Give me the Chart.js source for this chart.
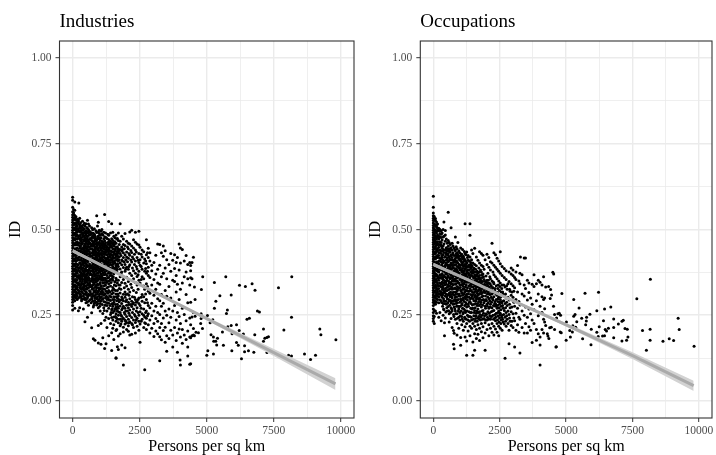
<!DOCTYPE html>
<html lang="en">
  <head>
    <meta charset="UTF-8" />
    <title>Industries and Occupations</title>
    <script src="https://cdn.jsdelivr.net/npm/chart.js"></script>
    <style>
      html, body { margin: 0; padding: 0; background: #fff; }
      canvas { position: absolute; top: 0; display: block; }
      #industries { left: 0; }
      #occupations { left: 360px; }
    </style>
  </head>
  <body>
    <canvas id="industries" width="360" height="455"></canvas>
    <canvas id="occupations" width="356" height="455"></canvas>
  <script>
    // each row: persons per sq km, then the ID values in thousandths read at that density
    const industryDense = [
      [0,265,278,288,296,303,311,318,326,333,341,348,356,363,371,378,386,393,401,408,416,423,431,438,446,453,461,468,476,483,491,498,506,513,521,528,536,543,552,565,585,594],
      [35,297,306,317,322,333,337,348,352,363,368,378,383,394,398,409,413,424,428,439,443,454,458,469,473,484,488,499,503,514,518,529,533,544,549,558],
      [80,270,292,304,309,319,324,335,339,350,354,365,369,380,384,396,399,410,414,425,429,440,444,456,459,470,474,486,489,500,504,515,519,530,534,541,556,580],
      [125,300,311,318,329,336,347,354,365,372,383,390,401,408,419,426,437,444,455,462,473,480,491,498,509,516,527,537],
      [170,296,307,314,326,333,344,353,361,372,380,391,398,410,417,428,436,445,456,464,473,484,492,503,510,521,530],
      [215,263,300,315,322,339,344,360,366,381,388,397,412,418,433,439,454,460,475,481,496,502,517,523,528],
      [230,577],
      [262,272,303,319,331,340,356,364,379,388,403,412,421,436,445,460,472,481,496,507,514,533],
      [296,309,327,336,358,367,391,402,424,438,449,467,485,503,520],
      [332,292,298,319,344,355,372,384,410,417,443,456,471,492,511],
      [368,315,331,350,363,379,398,408,428,436,459,478,488,506,524],
      [401,268,306,327,340,368,387,401,419,431,447,470,483,499,513],
      [436,322,337,355,374,394,411,423,440,452,466,480,502,518],
      [459,231,296,312,349,362,383,406,427,438,457,475,493,510],
      [497,286,318,335,358,378,389,409,420,433,451,468,484,496,517],
      [528,308,326,346,370,396,415,429,444,459,473,491,506],
      [553,244,301,338,352,367,381,405,418,436,447,467,479,503,527],
      [590,279,312,330,361,377,393,412,428,440,457,470,488,500,516],
      [628,321,344,356,386,399,421,435,449,461,483,495,510],
      [662,296,318,339,372,389,411,423,443,459,471,492],
      [709,213,257,304,334,351,368,394,408,431,444,456,476,490,505],
      [744,291,312,328,362,381,404,417,433,451,465,480,499],
      [771,181,274,345,355,377,390,412,429,441,460,477,489],
      [808,285,305,322,340,373,389,402,425,438,452,464,486,502],
      [833,177,300,318,357,369,396,415,428,447,470,482],
      [866,316,336,352,384,397,411,424,436,458,472,496],
      [897,280,298,330,349,366,382,407,420,433,451,469,491,540],
      [926,311,341,360,393,414,442,455,478,510],
      [958,169,220,272,292,320,338,373,388,402,429,445,457,481,493,521],
      [992,305,324,356,379,395,410,423,437,463,475,488,498],
      [1028,262,284,300,345,362,386,401,416,428,452,469,483],
      [1057,165,226,318,334,370,392,408,431,447,459,476,495],
      [1089,296,312,352,364,380,414,424,439,466,487,500],
      [1124,184,255,328,344,373,396,411,436,451,463,484],
      [1160,272,290,308,358,388,405,420,443,455,472,492],
      [1193,153,235,326,345,376,392,418,431,448,467,479,544],
      [1226,288,301,338,353,370,402,415,428,441,461,490],
      [1244,167,244,320,386,436,453,477],
      [1279,214,262,278,296,330,349,366,399,413,426,450,474],
      [1312,314,384,404,419,438,462,486],
      [1345,190,240,270,285,322,342,360,395,409,435,447,471,483,523],
      [1378,307,378,422,459],
      [1412,226,252,293,335,354,372,388,404,418,430,454,466,490],
      [1455,147,199,243,266,283,312,366,382,397,412,425,449,473,517],
      [1497,212,236,258,276,296,331,352,375,392,406,420,444,456,468,492],
      [1535,179,222,245,288,304,326,371,388,416,432,452,480],
      [1574,268,347,402,428,440,464,476],
      [1617,124,126,205,232,254,273,312,336,358,396,410,423,448,460,484],
      [1642,208,241,292,378,436,472],
      [1667,158,262,282,300,322,344,384,400,414,426,450,474],
      [1704,150,189,228,250,270,306,352,392,408,432,444,468,490],
      [1738,289,328,420,456],
      [1771,196,219,238,258,277,315,338,362,385,403,430,442,466,517],
      [1829,163,232,247,266,284,303,345,376,397,411,437,449,480],
      [1891,105,201,215,241,276,292,311,354,389,418,432,456,472],
      [1925,258,330,405,444],
      [1953,155,224,236,253,270,302,318,343,378,398,426,453,488],
      [2012,208,228,246,279,295,335,361,390,420,434,466],
      [2046,262,312,406,449],
      [2077,203,219,238,272,288,326,348,384,416,444,460],
      [2130,192,231,249,265,298,318,372,397,425,458,493],
      [2168,281,340,411,439],
      [2202,194,226,243,275,291,331,366,405,433,452,498],
      [2270,214,236,268,286,322,356,380,414,446,470],
      [2305,252,302,398,428],
      [2340,198,229,247,280,296,345,372,408,440,463,492],
      [2402,218,241,272,290,338,363,385,418,458],
      [2470,206,232,250,284,300,352,378,404,430,455,495],
      [2513,171,224,260,278,344,396,412,448],
      [2590,238,254,291,310,362,384,420,440],
      [2650,214,250,268,304,335,356,402,435],
      [2687,91,228,245,286,326,378,414],
      [2750,208,241,262,296,342,372,400,426,470],
      [2820,222,254,278,320,366,390,418,445],
      [2880,198,236,272,314,360,408,432],
      [2950,212,248,285,338,380,396],
      [3030,188,226,262,308,354,404],
      [3100,204,240,276,326,370,425]
    ];
    // extra dots for the blacker parts of the industries cloud
    const industryFill = [
      [280,311,349,375,412,452,493],[315,304,338,366,397,431,476],[350,326,357,389,421,463,498],[385,297,342,371,405,443,482],
      [420,312,333,380,415,449,491],[448,301,344,369,402,434,471],[480,327,352,383,412,445,488],[512,296,316,365,399,424,462],
      [540,288,329,357,392,438,480],[572,305,342,373,408,451,494],[610,292,337,351,381,417,464],[645,309,333,368,395,429,474],
      [685,286,311,349,380,412,452,486],[725,298,326,357,388,423,468],[756,306,338,369,398,437,482],[790,279,318,351,384,416,456],
      [822,293,331,364,407,441,477],[850,309,346,378,403,433,466],[880,288,323,358,390,419,447],[912,302,337,372,399,426,462],
      [940,284,317,352,381,409,440,472],[975,296,329,366,403,431,459],[1010,276,312,341,376,418,449],[1042,291,327,355,383,410,440],
      [1075,304,336,368,398,429,455],[1105,281,321,359,388,418,446],[1140,299,316,352,381,408,430,458],[1178,264,336,368,398,427],
      [1210,279,312,358,384,409,436,458],[1262,305,345,379,407,434,446],[1296,286,318,358,392,416,441],[1330,301,332,372,402,428,456],
      [1362,294,350,388,412,441,465],[1395,278,318,366,398,426,448],[1432,258,303,345,378,410,437,460],[1476,269,322,358,385,414,435],
      [1516,283,315,362,399,426,461],[1555,262,296,338,380,408,436,456],[1595,246,281,322,386,418,444],[1630,268,304,352,391,429],
      [1685,238,275,312,398,421,442],[1720,259,296,338,412,438],[1800,224,251,294,326,372,424],[1860,239,270,298,364,408,442],
      [1980,232,262,290,310,384,412],[2100,228,256,281,308,392,430],[2230,222,258,282,304,388,420],[2375,236,262,288,316,392,434],
      [2440,258,296,326,368,410],[2555,232,270,302,354,392,428],[2720,226,258,312,386,408],[2790,248,286,334,378,432]
    ];
    const industrySparse = [
      [3170,196,232,258,298,344,384,458],[3247,117,187,214,252,292,340,396,456],[3310,178,226,276,310,362,432],
      [3380,205,242,285,372,422,452],[3450,171,215,262,322,388,438],[3508,145,190,250,305,356,412],
      [3590,182,228,268,334,398],[3660,206,244,300,378,430],[3732,157,192,262,352,410],
      [3800,214,278,348,386,426],[3860,176,236,318,366,404],[3906,142,198,258,340,418],
      [3970,210,246,296,382,458],[4006,119],[4018,105,186,226,326,402,446],[4090,168,208,270,344,442],
      [4160,192,252,362,408],[4230,179,234,310,376,424],[4292,131,157,204,286,356,398],
      [4366,107,186,242,338,404],[4400,108,184,222,288,380,359,395],[4450,190,245,356,404],
      [4503,192,211,258,419],[4540,190,332],[4565,247,296],[4600,200],[4690,199],[4775,226],[4790,240,254],[4800,325],[4840,211],[4850,362],
      [5000,133],[5025,249],[5040,146],[5125,228],[5160,193],[5225,237],[5250,137,186],[5260,174],[5285,270,345],[5335,174],[5340,291],[5370,163],[5400,183],
      [5490,307],[5585,201],[5620,162],[5710,362],[5735,255],[5770,265],[5785,216],[5910,220,309],[5935,146],[5945,196],
      [6110,170,222],[6175,162],[6210,205],[6220,337],[6295,123],[6365,195],[6410,143,161],[6440,334],[6500,238],[6555,146],[6590,241],[6690,342],
      [6755,142],[6790,193],[6800,323],[6890,262],[6965,259],[7115,174,210],[7165,183],[7240,185],[7245,141],[7300,187],[7675,330],[7875,207],
      [8050,133],[8160,131,244],[8170,362],[8645,137],[8870,121],[9055,133],[9215,210],[9255,193],[9815,178]
    ];
    const occupationDense = [
      [0,232,240,248,258,268,278,288,295,302,309,316,323,330,337,344,351,358,365,372,379,386,393,400,407,414,421,428,435,442,449,456,463,470,477,484,491,498,505,512,519,526,533,540,548,565,597],
      [35,226,246,264,285,292,303,306,317,320,331,334,345,348,359,362,373,376,387,390,401,404,415,418,429,432,443,446,457,460,471,474,485,488,499,502,513,516,527,530,538],
      [80,262,282,290,301,306,318,322,334,338,350,354,366,370,382,386,398,402,414,418,430,434,446,450,462,466,478,482,494,498,510,514,526,532],
      [120,256,288,297,310,315,328,333,346,351,364,369,382,387,400,405,418,423,436,441,454,459,472,477,490,495,508,513,522],
      [160,296,305,318,324,338,344,358,364,378,384,398,404,418,424,438,444,458,464,478,484,498,504,516],
      [205,244,286,304,312,328,336,352,360,376,384,400,408,424,432,448,456,472,480,496,504],
      [248,258,295,312,320,336,344,360,368,384,392,408,416,432,440,456,464,479,488,500],
      [296,234,292,308,317,333,342,358,366,382,390,406,414,430,438,454,462,477,486,496],
      [332,302,325,347,371,394,418,445,469,490],
      [368,250,284,314,336,355,382,403,426,452,478,500],
      [400,266,292,320,344,366,390,409,433,458,480,522],
      [420,190,228],
      [452,242,306,328,349,376,396,421,441,466,484,497],
      [488,282,312,340,359,382,410,428,447,472],
      [525,262,298,322,352,372,398,417,438,460],
      [560,275,334,362,386,406,430,451,468,550],
      [598,230,254,292,314,344,378,396,420,444,462],
      [634,304,328,356,370,392,411,434,456],
      [668,240,272,286,310,342,366,384,402,426,447,505],
      [709,214,262,300,326,350,376,398,418,440,460],
      [742,282,316,338,362,388,410,432,452],
      [760,165,205,252,292,354,404],
      [785,152,197,274,308,328,372,396,424,446],
      [830,238,262,302,340,364,382,416,438,478],
      [862,284,318,350,378,406,430,450],
      [892,192,226,254,294,334,360,392,420,444],
      [924,276,312,344,374,402,426,462],
      [958,212,244,268,306,328,368,388,414,438],
      [1000,236,258,288,338,354,382,410,432],
      [1030,162,185,298,322,362,396,424,446],
      [1070,222,246,280,316,348,376,404,428],
      [1100,270,308,342,386,414,442],
      [1130,206,232,258,300,334,358,394,422],
      [1165,290,326,366,380,408,436],
      [1195,186,216,240,264,304,350,384,412,430,517],
      [1225,286,322,370,398,426],
      [1255,133,175,226,274,312,346,376,404,434],
      [1285,250,294,330,362,390,418],
      [1310,204,236,282,320,352,382,410,424],
      [1345,260,302,336,368,396],
      [1380,190,218,246,290,328,360,390,420,483,517],
      [1410,270,310,344,376,404],
      [1440,212,236,258,300,334,366,396,412,440],
      [1470,280,318,350,380],
      [1490,133,172,226,270,310,342,374,402,430],
      [1525,248,292,326,358,388],
      [1555,148,196,218,264,304,336,368,398,445],
      [1590,240,284,320,352,384],
      [1620,182,208,256,298,332,364,394,420],
      [1650,232,278,314,348,378],
      [1680,194,222,268,308,340,372,410],
      [1710,246,290,324,356,388],
      [1740,176,212,260,300,334,366,402,435],
      [1775,236,282,318,350,382],
      [1810,202,226,274,312,344,376,396,430],
      [1840,250,294,328,360],
      [1870,184,216,264,306,338,370,392,425],
      [1910,240,286,322,354,384],
      [1950,148,198,228,276,316,348,412],
      [1985,254,296,332,364],
      [2020,208,236,282,320,352,398,428],
      [2055,260,302,336,372],
      [2090,190,222,270,312,344,390,418],
      [2125,248,292,328,362],
      [2150,212,238,282,320,356,382,406],
      [2180,260,302,336],
      [2210,200,226,272,312,350,402,460],
      [2245,250,294,330,376],
      [2280,192,218,264,304,342,368,396,432],
      [2310,242,284,322],
      [2340,210,234,276,316,362,390,426],
      [2370,256,296,336],
      [2400,200,226,270,308,356,384,416],
      [2430,248,290,328],
      [2460,190,218,262,302,350,378,408],
      [2490,242,282,322],
      [2520,212,256,296,344,372,400,435],
      [2555,236,276,318],
      [2590,206,250,290,338,366,392],
      [2630,230,270,312],
      [2670,224,264,306,360,386],
      [2700,124,244,284,332],
      [2740,218,258,300,354,380],
      [2780,238,278,326],
      [2850,167,206,252,294,348,376],
      [2890,232,272,320],
      [2930,220,260,308,342,370,388],
      [3000,214,254,302,336,366,382]
    ];
    // extra dots for the blacker parts of the occupations cloud
    const occupationFill = [
      [315,287,314,341,369,398,423,451],[350,276,309,330,361,389,412,437],[385,268,298,327,352,378,405,441],[430,284,315,339,362,391,419],
      [470,259,291,322,347,371,402,433],[505,272,303,331,357,384,411,444],[545,286,309,338,366,392,425],[580,263,296,325,349,377,409,437],
      [615,279,308,336,359,387,414,441],[650,258,293,318,345,372,398,423],[690,268,304,332,358,386,412],[725,291,311,341,369,394,427],
      [775,246,283,318,349,379,405],[810,268,296,329,355,386,412,441],[845,254,291,311,342,371,398,424],[875,276,303,326,358,384,408],
      [908,241,286,322,349,378,404,432],[940,262,296,331,361,392,418],[975,275,312,344,372,398,422],[1015,248,276,306,331,362,389,414],
      [1050,262,292,322,354,382,408],[1085,238,284,314,338,368,398,419],[1115,254,295,326,352,378,404],[1150,268,312,342,372,392,416],
      [1180,244,278,318,346,366,398],[1210,258,298,332,362,386,408],[1240,238,282,308,338,368,392],[1270,262,302,322,354,380,402],
      [1325,246,276,312,346,372,394],[1360,232,288,320,354,382,408],[1395,258,298,338,366,398],[1425,244,284,322,352,386],
      [1455,268,306,342,372,392],[1505,238,298,332,362,382],[1540,258,282,316,346,376],[1575,232,272,308,340,362],
      [1605,248,292,326,356,376],[1635,262,304,336,368],[1665,242,284,320,354],[1695,258,298,332,362],
      [1725,238,278,312,346,376],[1758,252,296,328,358],[1792,244,288,322,352],[1825,262,304,336,368],
      [1855,238,280,316,348],[1890,256,296,332,362],[1930,248,292,318,340],[1965,236,270,306,338],
      [2000,252,292,326,346],[2035,244,276,312,342],[2070,238,286,318,352],[2105,256,298,332],
      [2140,240,274,310,342],[2195,246,288,322],[2230,262,298,330],[2265,238,278,316,346],
      [2325,252,290,328],[2355,244,282,312],[2415,236,278,316],[2445,258,298,338],
      [2475,230,272,308],[2505,250,288,334],[2540,226,266,304],[2575,244,286,328],
      [2610,238,278,318],[2650,252,292,338],[2720,232,272,312],[2760,248,288,336],
      [2810,226,262,302,342],[2870,242,282,326],[2960,232,274,318],[3030,242,288,320]
    ];
    const occupationSparse = [
      [3060,157,234,276,330,360],[3110,206,256,296,354,376],[3170,222,270,318,395],[3220,200,244,290,350],
      [3260,140,238,280,342,372],[3280,420],[3340,214,262,312,368],[3420,198,250,306,338,417],[3470,226,274,328,417],
      [3540,198,244,294,352],[3600,216,268,316,344],[3660,206,254,300],[3720,170,236,282,340],
      [3790,226,266,334,368],[3880,177,208,292,342],[3950,196,248,312,352],[4018,105,163,186,276,346],
      [4090,208,258,304,338],[4150,198,238,296,362],[4190,230,269,300],[4230,220,332],[4290,196],[4315,189],[4340,334],[4350,182],[4380,213],
      [4400,299],[4415,325],[4440,215],[4450,309],[4500,375],[4525,276],[4530,370],[4565,208,252],[4615,157],[4630,158],[4640,242],[4690,254],[4740,256],[4775,201],[4790,250],[4815,199],[4840,313],
      [5000,177],[5010,230],[5135,205],[5160,186],[5235,201],[5250,219],[5285,247,296],[5335,252],[5360,215],[5400,231],[5485,271],[5585,241],[5620,181],[5710,314],[5735,222],[5760,233],[5770,244],[5895,253],[5935,164],[5945,209],
      [6155,200,263],[6205,188],[6220,317],[6245,216],[6370,189],[6405,234],[6445,190,268],[6470,208],[6520,204],[6590,212],[6680,274],[6790,184,214,239],[6965,224],[7100,175,232],[7150,235],[7215,211],[7275,177],[7300,209],[7325,186],
      [7660,298],[7875,205],[8020,148],[8160,177,209],[8170,355],[8645,174],[8880,181],[9045,176],[9215,241],[9255,208],[9815,159]
    ];

    // regression line and its confidence band
    const fitX = [0, 1250, 2500, 5000, 7500, 9800];
    const industryFit = [0.438, 0.389, 0.339, 0.24, 0.141, 0.0495];
    const industryLow = [0.433, 0.386, 0.336, 0.235, 0.131, 0.032];
    const industryHigh = [0.443, 0.392, 0.342, 0.245, 0.151, 0.066];
    const occupationFit = [0.398, 0.355, 0.31, 0.222, 0.132, 0.0446];
    const occupationLow = [0.393, 0.352, 0.307, 0.217, 0.122, 0.029];
    const occupationHigh = [0.403, 0.358, 0.313, 0.227, 0.142, 0.059];

    const xTickValues = [0, 1250, 2500, 3750, 5000, 6250, 7500, 8750, 10000];
    const xMajorTicks = [0, 2500, 5000, 7500, 10000];
    const yTickValues = [0, 0.125, 0.25, 0.375, 0.5, 0.625, 0.75, 0.875, 1];
    const yMajorTicks = [0, 0.25, 0.5, 0.75, 1];
    const yTickLabels = ["0.00", "0.25", "0.50", "0.75", "1.00"];

    const toPoints = (rows) =>
      rows.flatMap(([x, ...ys]) => ys.map((y) => ({ x: x, y: y / 1000 })));
    const toLine = (ys) => fitX.map((x, i) => ({ x: x, y: ys[i] }));

    const serif = "'Liberation Serif', serif";

    const panelBorder = {
      id: "panelBorder",
      afterDatasetsDraw(chart) {
        const { ctx, chartArea: a } = chart;
        ctx.save();
        ctx.strokeStyle = "#333333";
        ctx.lineWidth = 1.1;
        ctx.strokeRect(a.left, a.top, a.right - a.left, a.bottom - a.top);
        ctx.restore();
      },
    };

    const makePanel = (id, title, rows, fit, low, high, axisLeft, xMin, xMax, rightPad) =>
      new Chart(document.getElementById(id), {
        type: "scatter",
        data: {
          datasets: [
            {
              type: "line",
              data: toLine(fit),
              borderColor: "#aaaaaa",
              borderWidth: 3,
              pointRadius: 0,
              order: 0,
            },
            {
              type: "line",
              data: toLine(high),
              borderWidth: 0,
              pointRadius: 0,
              fill: "+1",
              backgroundColor: "#d2d2d2",
              order: 1,
            },
            {
              type: "line",
              data: toLine(low),
              borderWidth: 0,
              pointRadius: 0,
              order: 1,
            },
            {
              data: toPoints(rows),
              backgroundColor: "#000",
              borderWidth: 0,
              pointRadius: 1.5,
              order: 2,
            },
          ],
        },
        options: {
          responsive: false,
          animation: false,
          layout: { padding: { left: 0, top: 0, right: rightPad, bottom: 0 } },
          plugins: {
            legend: { display: false },
            tooltip: { enabled: false },
            title: {
              display: true,
              text: title,
              align: "start",
              fullSize: false,
              color: "#000",
              font: { family: serif, size: 19, weight: "normal" },
              padding: { top: 10.6, bottom: 7.6 },
            },
          },
          scales: {
            x: {
              type: "linear",
              min: xMin,
              max: xMax,
              afterBuildTicks: (s) => (s.ticks = xTickValues.map((v) => ({ value: v }))),
              afterFit: (s) => {
                s.height = 37;
                s.paddingLeft = 0;
                s.paddingRight = 0;
              },
              ticks: {
                autoSkip: false,
                maxRotation: 0,
                padding: 2,
                color: "#4d4d4d",
                font: { family: serif, size: 11.5 },
                callback: (v) => (xMajorTicks.includes(v) ? String(v) : ""),
              },
              grid: {
                tickLength: 4,
                color: "#ebebeb",
                tickColor: (c) => (xMajorTicks.includes(c.tick.value) ? "#333333" : "rgba(0,0,0,0)"),
                lineWidth: (c) => (xMajorTicks.includes(c.tick.value) ? 1.4 : 0.8),
                tickWidth: 1,
              },
              border: { display: false },
              title: {
                display: true,
                text: "Persons per sq km",
                color: "#000",
                font: { family: serif, size: 16, lineHeight: 1 },
                padding: { top: 0, bottom: 0 },
              },
            },
            y: {
              type: "linear",
              min: -0.05,
              max: 1.05,
              afterBuildTicks: (s) => (s.ticks = yTickValues.map((v) => ({ value: v }))),
              afterFit: (s) => {
                s.width = axisLeft;
                s.paddingTop = 0;
                s.paddingBottom = 0;
              },
              ticks: {
                autoSkip: false,
                padding: 4,
                color: "#4d4d4d",
                font: { family: serif, size: 11.5 },
                callback: (v) => {
                  const i = yMajorTicks.indexOf(v);
                  return i < 0 ? "" : yTickLabels[i];
                },
              },
              grid: {
                tickLength: 4,
                color: "#ebebeb",
                tickColor: (c) => (yMajorTicks.includes(c.tick.value) ? "#333333" : "rgba(0,0,0,0)"),
                lineWidth: (c) => (yMajorTicks.includes(c.tick.value) ? 1.4 : 0.8),
                tickWidth: 1,
              },
              border: { display: false },
              title: {
                display: true,
                text: "ID",
                color: "#000",
                font: { family: serif, size: 16, lineHeight: 1 },
                padding: { top: 8, bottom: 0 },
              },
            },
          },
        },
        plugins: [panelBorder],
      });

    makePanel("industries", "Industries", industryDense.concat(industryFill, industrySparse),
      industryFit, industryLow, industryHigh, 59.5, -490, 10490, 6);
    makePanel("occupations", "Occupations", occupationDense.concat(occupationFill, occupationSparse),
      occupationFit, occupationLow, occupationHigh, 60.3, -490, 10490, 1.7);
  </script>
  </body>
</html>
